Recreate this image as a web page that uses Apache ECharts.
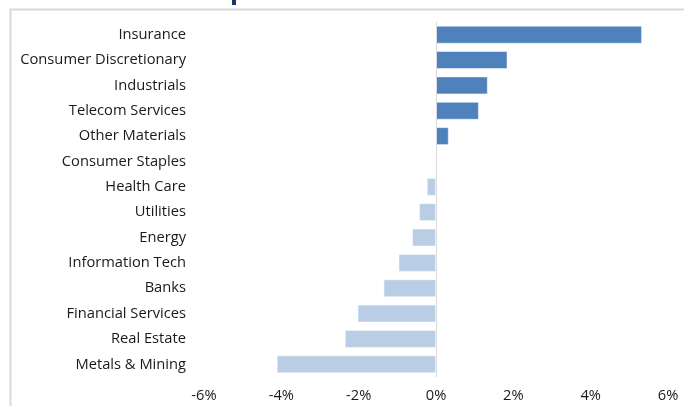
<!DOCTYPE html>
<html>
<head>
<meta charset="utf-8">
<script src="https://cdn.jsdelivr.net/npm/echarts@6/dist/echarts.min.js"></script>
<style>
  html, body { margin: 0; padding: 0; background: #fff; }
  #chart { width: 684px; height: 406px; }
</style>
</head>
<body>
<div id="chart"></div>
<script>
  // sectors, top to bottom as shown
  var sectors = ['Insurance', 'Consumer Discretionary', 'Industrials', 'Telecom Services', 'Other Materials',
    'Consumer Staples', 'Health Care', 'Utilities', 'Energy', 'Information Tech', 'Banks',
    'Financial Services', 'Real Estate', 'Metals & Mining']
  // performance in %
  var perf = [5.33, 1.85, 1.34, 1.11, 0.33, 0, -0.24, -0.44, -0.62, -0.97, -1.36, -2.03, -2.36, -4.12]
  var xTicks = [-6, -4, -2, 0, 2, 4, 6]

  var posColor = '#4f81bd'
  var negColor = '#b9cde5'

  var myChart = echarts.init(document.getElementById('chart'))
  var option = {
    animation: false,
    textStyle: { fontFamily: 'Open Sans' },
    graphic: [
      // chart frame, runs off the right and bottom edges
      { type: 'rect', left: 8, top: 7, shape: { width: 720, height: 440 },
        style: { fill: 'none', stroke: '#d9d9d9', lineWidth: 2 }, silent: true },
      // bottom of the cut-off title
      { type: 'rect', left: 232, top: 0, shape: { width: 4, height: 5 },
        style: { fill: '#1f3864' }, silent: true }
    ],
    grid: { left: 204, right: 16, top: 22, bottom: 29, containLabel: false },
    xAxis: {
      type: 'value',
      min: xTicks[0],
      max: xTicks[xTicks.length - 1],
      interval: 2,
      splitLine: { show: false },
      axisLine: { show: false },
      axisTick: { show: false },
      axisLabel: {
        margin: 11,
        color: '#1a1a1a',
        fontSize: 14.7,
        fontFamily: 'Open Sans',
        formatter: function (v) { return v + '%' }
      }
    },
    yAxis: {
      type: 'category',
      data: sectors,
      inverse: true,
      axisLine: { show: false },
      axisTick: { show: false },
      axisLabel: { margin: 18, color: '#1a1a1a', fontSize: 14.7, fontFamily: 'Open Sans', padding: [3, 0, 0, 0] }
    },
    series: [{
      type: 'bar',
      barCategoryGap: '29%',
      data: perf.map(function (v) {
        return { value: v, itemStyle: { color: v >= 0 ? posColor : negColor } }
      }),
      itemStyle: { borderColor: 'rgba(255,255,255,0.5)', borderWidth: 1 },
      markLine: {
        silent: true,
        symbol: 'none',
        label: { show: false },
        lineStyle: { color: '#d9d9d9', type: 'solid', width: 1 },
        data: [{ xAxis: 0 }]
      }
    }]
  }
  myChart.setOption(option)
</script>
</body>
</html>
